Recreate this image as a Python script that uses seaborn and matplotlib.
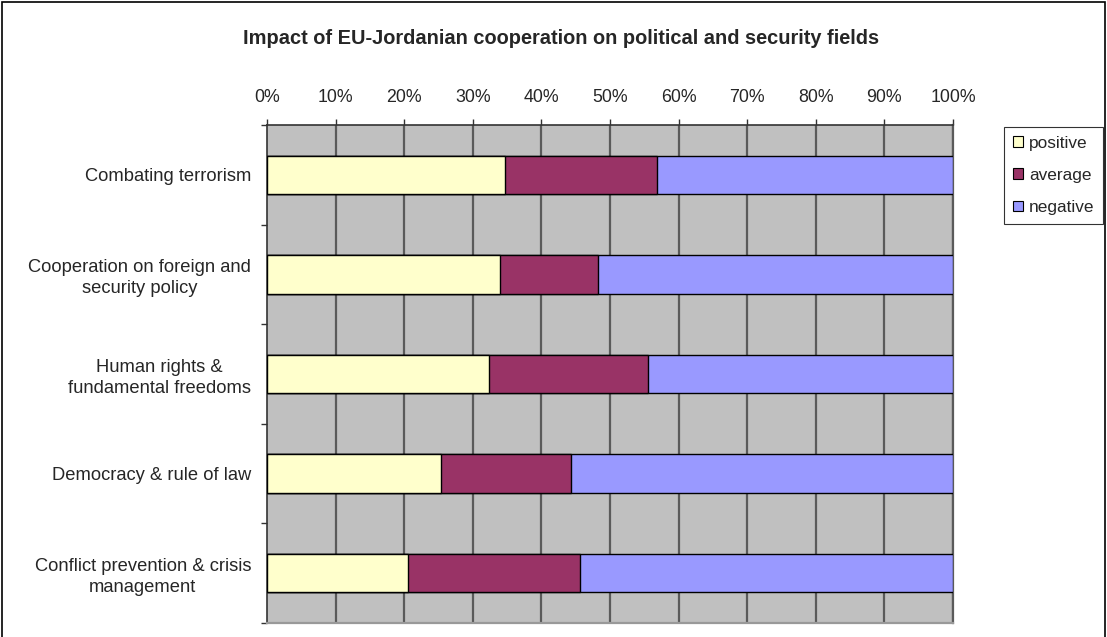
import matplotlib
matplotlib.use("Agg")
import matplotlib.pyplot as plt
import seaborn as sns
import pandas as pd
import numpy as np
from matplotlib.patches import Patch

categories = [
    "Combating terrorism",
    "Cooperation on foreign and\nsecurity policy",
    "Human rights &\nfundamental freedoms",
    "Democracy & rule of law",
    "Conflict prevention & crisis\nmanagement",
]
positive = [34.7, 33.9, 32.3, 25.3, 20.5]
average = [22.2, 14.3, 23.3, 19.0, 25.1]
negative = [43.1, 51.8, 44.4, 55.7, 54.4]
series_names = ["positive", "average", "negative"]
series_colors = ["#FFFFCC", "#993366", "#9999FF"]
tick_values = list(range(0, 101, 10))
tick_labels = [f"{v}%" for v in tick_values]
title = "Impact of EU-Jordanian cooperation on political and security fields"

sns.set_style("white")
plt.rcParams["font.family"] = ["Liberation Sans", "DejaVu Sans"]

fig = plt.figure(figsize=(11.07, 6.37), dpi=100)
ax = fig.add_axes([267 / 1107, 1 - 623 / 637, 686 / 1107, 498 / 637])
ax.set_facecolor("#C0C0C0")

df = pd.DataFrame({"category": categories, "positive": positive,
                   "average": average, "negative": negative})
df["cum_pos"] = df["positive"]
df["cum_avg"] = df["positive"] + df["average"]
df["cum_neg"] = df["cum_avg"] + df["negative"]

# stacked bars: draw the longest cumulative segment first, shorter ones on top
for col, color in zip(["cum_neg", "cum_avg", "cum_pos"], series_colors[::-1]):
    sns.barplot(data=df, y="category", x=col, orient="h", color=color,
                width=0.385, edgecolor="black", linewidth=1.0, ax=ax,
                saturation=1, zorder=3)

ax.set_xlim(0, 100)
ax.set_ylim(4.5, -0.5)
ax.set_xlabel("")
ax.set_ylabel("")

# vertical gridlines
for v in tick_values[1:]:
    ax.axvline(v, color="#5a5a5a", lw=1.6, zorder=1)

ax.xaxis.tick_top()
ax.set_xticks(tick_values)
ax.set_xticklabels(tick_labels, fontsize=12.8)
ax.tick_params(axis="x", top=True, direction="out", length=4.5, width=1.0,
               color="#333333", pad=9)

ax.set_yticks(np.arange(len(categories)))
ax.set_yticklabels(categories, fontsize=13.2, multialignment="center",
                   linespacing=1.3)
ax.tick_params(axis="y", left=False, pad=8)
# category boundary ticks on the left axis
ax.set_yticks(np.arange(-0.5, len(categories), 1.0), minor=True)
ax.tick_params(axis="y", which="minor", left=True, direction="out",
               length=4, width=1.0, color="#333333")

for side in ["top", "left"]:
    ax.spines[side].set_color("#333333")
    ax.spines[side].set_linewidth(1.2)
ax.spines["right"].set_color("#5a5a5a")
ax.spines["right"].set_linewidth(1.6)
ax.spines["bottom"].set_color("#999999")
ax.spines["bottom"].set_linewidth(1.6)

fig.text(561 / 1107, 1 - 38 / 637, title, ha="center", va="center",
         fontsize=14.4, fontweight="bold")

handles = [Patch(facecolor=c, edgecolor="black", linewidth=0.8, label=n)
           for n, c in zip(series_names, series_colors)]
leg = fig.legend(handles=handles, loc="upper left",
                 bbox_to_anchor=(1004 / 1107, 1 - 127 / 637),
                 frameon=True, fancybox=False, fontsize=12.4,
                 handlelength=0.6, handleheight=0.6, handletextpad=0.35,
                 labelspacing=1.0, borderpad=0.5, borderaxespad=0)
leg.get_frame().set_edgecolor("black")
leg.get_frame().set_linewidth(0.8)

# outer chart frame
frame = plt.Rectangle((2 / 1107, -0.01), 1103 / 1107, 1 - 2 / 637 + 0.01,
                      transform=fig.transFigure, fill=False,
                      edgecolor="black", linewidth=1.2)
fig.add_artist(frame)

fig.savefig("out.png", dpi=100)
